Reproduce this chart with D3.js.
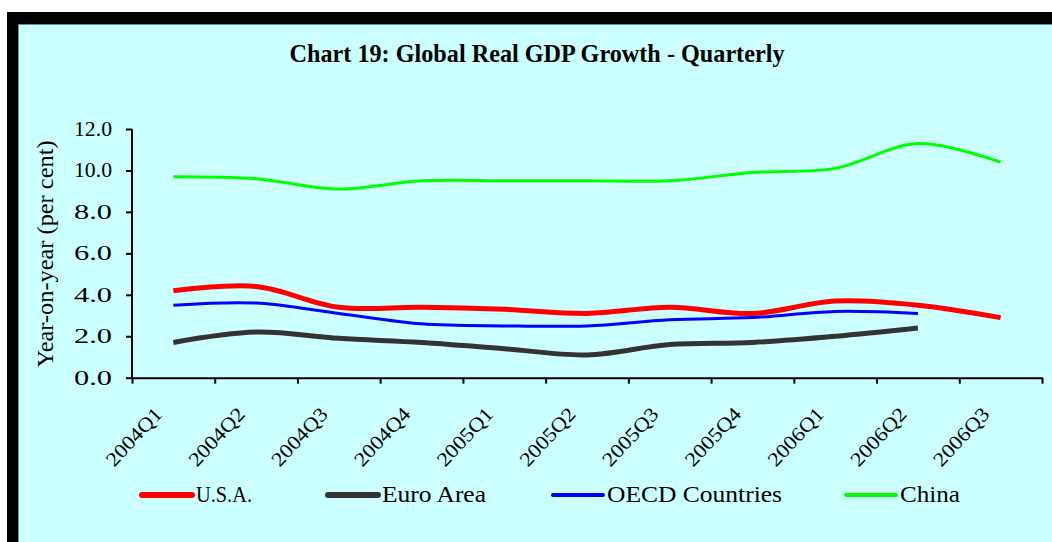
<!DOCTYPE html>
<html>
<head>
<meta charset="utf-8">
<script src="https://cdn.jsdelivr.net/npm/d3@7"></script>
<style>
  body { margin: 0; background: #fff; }
  svg { display: block; }
  text { font-family: "Liberation Serif", "Times New Roman", serif; fill: #000; }
</style>
</head>
<body>
<div id="chart-wrapper"></div>
<script>
// quarterly year-on-year growth
const quarters = ["2004Q1", "2004Q2", "2004Q3", "2004Q4", "2005Q1", "2005Q2",
  "2005Q3", "2005Q4", "2006Q1", "2006Q2", "2006Q3"];
const usa = [4.2, 4.4, 3.4, 3.4, 3.3, 3.1, 3.4, 3.1, 3.7, 3.5, 2.9];
const euroArea = [1.7, 2.2, 1.9, 1.7, 1.4, 1.1, 1.6, 1.7, 2.0, 2.4];
const oecd = [3.5, 3.6, 3.1, 2.6, 2.5, 2.5, 2.8, 2.9, 3.2, 3.1];
const china = [9.7, 9.6, 9.1, 9.5, 9.5, 9.5, 9.5, 9.9, 10.1, 11.3, 10.4];
const yTicks = [0, 2, 4, 6, 8, 10, 12];

const series = [
  { name: "U.S.A.", values: usa, color: "#ff0000", width: 5 },
  { name: "Euro Area", values: euroArea, color: "#333333", width: 5 },
  { name: "OECD Countries", values: oecd, color: "#0000ff", width: 3 },
  { name: "China", values: china, color: "#00ff00", width: 3 }
];

const w = 1052;
const h = 542;

const svg = d3.select("#chart-wrapper")
  .append("svg")
  .attr("width", w)
  .attr("height", h);

// black frame + cyan panel
svg.append("rect")
  .attr("x", 7).attr("y", 12)
  .attr("width", w).attr("height", h)
  .attr("fill", "#000");
svg.append("rect")
  .attr("x", 18.5).attr("y", 24.5)
  .attr("width", w).attr("height", h)
  .attr("fill", "#ccffff")
  .attr("stroke", "#6f8f8f")
  .attr("stroke-width", 1);

svg.append("text")
  .attr("x", 537)
  .attr("y", 62)
  .attr("text-anchor", "middle")
  .attr("textLength", 495)
  .attr("lengthAdjust", "spacingAndGlyphs")
  .style("font-size", "25px")
  .style("font-weight", "bold")
  .text("Chart 19: Global Real GDP Growth - Quarterly");

const x = d3.scaleBand().domain(quarters).range([132, 1042]);
const y = d3.scaleLinear().domain([0, 12]).range([377.7, 129]);
const xi = d3.scaleLinear().domain([0, quarters.length]).range([132, 1042]);

// y axis
const yAxis = svg.append("g")
  .attr("transform", "translate(132,0)")
  .call(d3.axisLeft(y).tickValues(yTicks).tickFormat(d3.format(".1f"))
    .tickSize(6).tickPadding(14));
yAxis.select(".domain").attr("stroke-width", 2).attr("d", `M0,${y(12)}V${y(0)}`);
yAxis.selectAll(".tick line").attr("stroke-width", 2);
yAxis.selectAll(".tick text")
  .attr("textLength", 38)
  .attr("lengthAdjust", "spacingAndGlyphs")
  .style("font-size", "20px")
  .style("font-family", "Liberation Serif");

// x axis, ticks sit between the quarters
const xAxis = svg.append("g")
  .attr("transform", `translate(0,${y(0)})`)
  .call(d3.axisBottom(xi).tickValues(d3.range(quarters.length + 1))
    .tickFormat("").tickSize(6).tickSizeOuter(0));
xAxis.select(".domain").attr("stroke-width", 2);
xAxis.selectAll(".tick line").attr("stroke-width", 2);

svg.append("g")
  .selectAll("text")
  .data(quarters)
  .enter()
  .append("text")
  .attr("transform", d => `translate(${x(d) + x.bandwidth() / 2 - 10},415) rotate(-47)`)
  .attr("text-anchor", "end")
  .attr("textLength", 72)
  .attr("lengthAdjust", "spacingAndGlyphs")
  .style("font-size", "20px")
  .text(d => d);

svg.append("text")
  .attr("transform", "translate(53,254) rotate(-90)")
  .attr("text-anchor", "middle")
  .attr("textLength", 227)
  .attr("lengthAdjust", "spacingAndGlyphs")
  .style("font-size", "23px")
  .text("Year-on-year (per cent)");

const line = d3.line()
  .x((d, i) => x(quarters[i]) + x.bandwidth() / 2)
  .y(d => y(d))
  .curve(d3.curveCatmullRom);

svg.append("g")
  .selectAll("path")
  .data(series)
  .enter()
  .append("path")
  .attr("d", d => line(d.values))
  .attr("fill", "none")
  .attr("stroke", d => d.color)
  .attr("stroke-width", d => d.width)
  .attr("stroke-linejoin", "round");

// legend
const legendX = [142, 328, 553, 846];
const legendText = [56, 104, 175, 60];
const legend = svg.append("g")
  .selectAll("g")
  .data(series)
  .enter()
  .append("g")
  .attr("transform", (d, i) => `translate(${legendX[i]},495)`);

legend.append("line")
  .attr("x1", 0).attr("x2", 50)
  .attr("stroke", d => d.color)
  .attr("stroke-width", d => d.width + 1)
  .attr("stroke-linecap", "round");

legend.append("text")
  .attr("x", 54)
  .attr("y", 7)
  .attr("textLength", (d, i) => legendText[i])
  .attr("lengthAdjust", "spacingAndGlyphs")
  .style("font-size", "24px")
  .text(d => d.name);
</script>
</body>
</html>
